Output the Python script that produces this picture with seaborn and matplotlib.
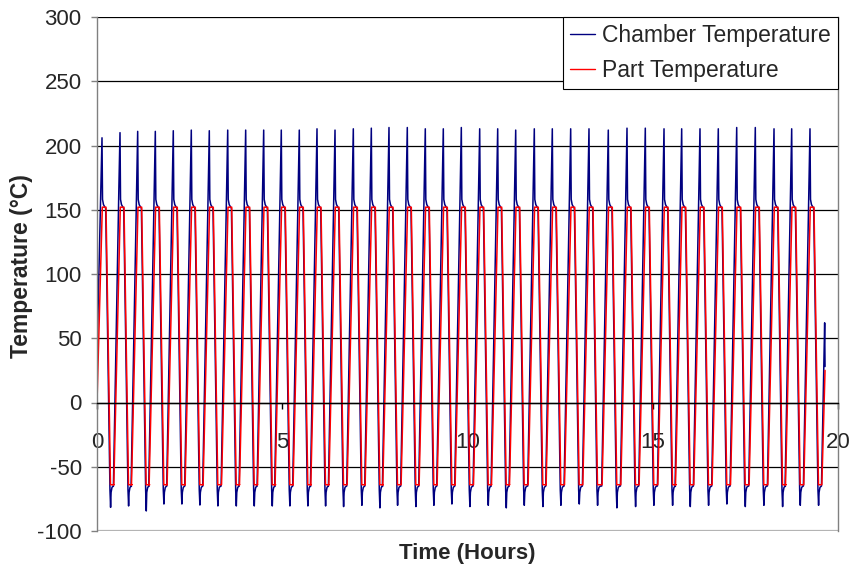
import numpy as np
import pandas as pd
import matplotlib
matplotlib.use("Agg")
import matplotlib.pyplot as plt
import seaborn as sns

# ---- data ----
# times (hours) of each chamber-temperature peak
peak_hours = [0.135, 0.621, 1.098, 1.574, 2.059, 2.545, 3.031, 3.528, 4.013, 4.499,
              4.974, 5.460, 5.938, 6.424, 6.918, 7.404, 7.881, 8.375, 8.861, 9.347,
              9.833, 10.329, 10.815, 11.301, 11.803, 12.289, 12.785, 13.279, 13.800, 14.305,
              14.799, 15.304, 15.781, 16.275, 16.769, 17.266, 17.768, 18.273, 18.750, 19.244]
# chamber peak temperature of each cycle (degC)
chamber_peaks = [206, 210, 211, 211, 211.5, 212, 211.5, 212, 212, 212,
                 212, 212, 213, 212, 213, 213.5, 214, 214, 213, 213,
                 214, 213, 213, 212, 213, 213, 213, 213, 212, 213.5,
                 213.5, 213, 213, 213, 213, 214, 214, 213, 213, 213]
# chamber minimum (overshoot) temperature of each cycle (degC)
chamber_mins = [-81.6, -80.5, -84.4, -79, -79, -79.8, -80.5, -80.5, -80.5, -80.5,
                -80.5, -80.5, -80.5, -81, -80, -82, -80, -81, -80, -79,
                -81, -80, -82, -80, -81, -80, -79, -80, -82, -81,
                -80, -80, -81, -80, -79, -81, -80, -81, -80, -80]
chamber_shape_hours = [-0.178, -0.032, 0.0, 0.014, 0.040, 0.100, 0.215, 0.232, 0.245, 0.270, 0.310]
chamber_shape_temps = [-65, 165, None, 158, 154, 151, -68, None, -70, -66, -65]
# one-cycle profile of the part (hours from chamber peak, degC)
part_shape_hours = [-0.167, 0.008, 0.108, 0.229, 0.320]
part_shape_temps = [-64, 152, 152, -64, -64]
# first and last recorded points
chamber_start = (0.0, 35)
part_start = (0.0, 0)
chamber_end_hours = [19.64, 19.65]
chamber_end_temps = [62, 28]
part_end_hours = [19.65]
part_end_temps = [25]

series_names = ["Chamber Temperature", "Part Temperature"]
series_colors = ["#000080", "#FF0000"]
y_ticks = [-100, -50, 0, 50, 100, 150, 200, 250, 300]
x_ticks = [0, 5, 10, 15, 20]

# ---- assemble records ----
rows = []
rows.append((chamber_start[0], chamber_start[1], series_names[0]))
for tp, pk, mn in zip(peak_hours, chamber_peaks, chamber_mins):
    for off, val in zip(chamber_shape_hours, chamber_shape_temps):
        t = tp + off
        if t <= 0:
            continue
        if val is None:
            val = pk if off == 0.0 else mn
        rows.append((t, val, series_names[0]))
for t, v in zip(chamber_end_hours, chamber_end_temps):
    rows.append((t, v, series_names[0]))

rows.append((part_start[0], part_start[1], series_names[1]))
for tp in peak_hours:
    for off, val in zip(part_shape_hours, part_shape_temps):
        t = tp + off
        if t <= 0:
            continue
        rows.append((t, val, series_names[1]))
for t, v in zip(part_end_hours, part_end_temps):
    rows.append((t, v, series_names[1]))

df = pd.DataFrame(rows, columns=["Time", "Temp", "Series"])

# ---- plot ----
sns.set_style("white")
plt.rcParams["font.family"] = ["Liberation Sans", "DejaVu Sans"]
plt.rcParams["axes.unicode_minus"] = False

fig = plt.figure(figsize=(8.53, 5.69), dpi=100)
ax = fig.add_axes([97 / 853, 1 - 531 / 569, (838 - 97) / 853, (531 - 17) / 569])

sns.lineplot(data=df, x="Time", y="Temp", hue="Series", hue_order=series_names,
             palette=series_colors, estimator=None, errorbar=None, sort=False,
             linewidth=1.1, ax=ax)

ax.set_xlim(0, 20)
ax.set_ylim(-100, 300)
ax.set_xticks(x_ticks)
ax.set_yticks(y_ticks)
ax.set_xticklabels([str(v) for v in x_ticks])
ax.set_yticklabels([str(v) for v in y_ticks])

ax.set_axisbelow(True)
ax.yaxis.grid(True, color="black", linewidth=0.9)
ax.xaxis.grid(False)
glines = ax.get_ygridlines()
glines[0].set_color("#b4b4b4")
glines[0].set_linewidth(1.6)

for s in ["left", "right"]:
    ax.spines[s].set_visible(True)
    ax.spines[s].set_color("#808080")
    ax.spines[s].set_linewidth(1.0)
ax.spines["top"].set_visible(False)
ax.spines["bottom"].set_position(("data", 0))
ax.spines["bottom"].set_color("black")
ax.spines["bottom"].set_linewidth(1.0)

ax.tick_params(axis="y", which="major", direction="out", length=4, width=1,
               color="#808080", pad=7, labelsize=16, left=True)
ax.tick_params(axis="x", which="major", direction="out", length=4, width=1,
               color="black", pad=17, labelsize=16, bottom=True)

ax.set_xlabel("Time (Hours)", fontsize=16, fontweight="bold")
ax.set_ylabel("Temperature (°C)", fontsize=16.5, fontweight="bold")
ax.xaxis.set_label_coords(0.5, -0.024)
ax.yaxis.set_label_coords(-0.086, 0.515)

leg = ax.legend(loc="upper right", bbox_to_anchor=(1.0, 1.0), borderaxespad=0.0,
                frameon=True, fancybox=False, shadow=False, framealpha=1.0,
                fontsize=16.5, handlelength=1.1, handletextpad=0.3,
                labelspacing=0.52, borderpad=0.3, title=None)
leg.get_frame().set_edgecolor("black")
leg.get_frame().set_linewidth(0.8)
for h in leg.get_lines():
    h.set_linewidth(1.0)

fig.savefig("out.png", dpi=100, facecolor="white")
